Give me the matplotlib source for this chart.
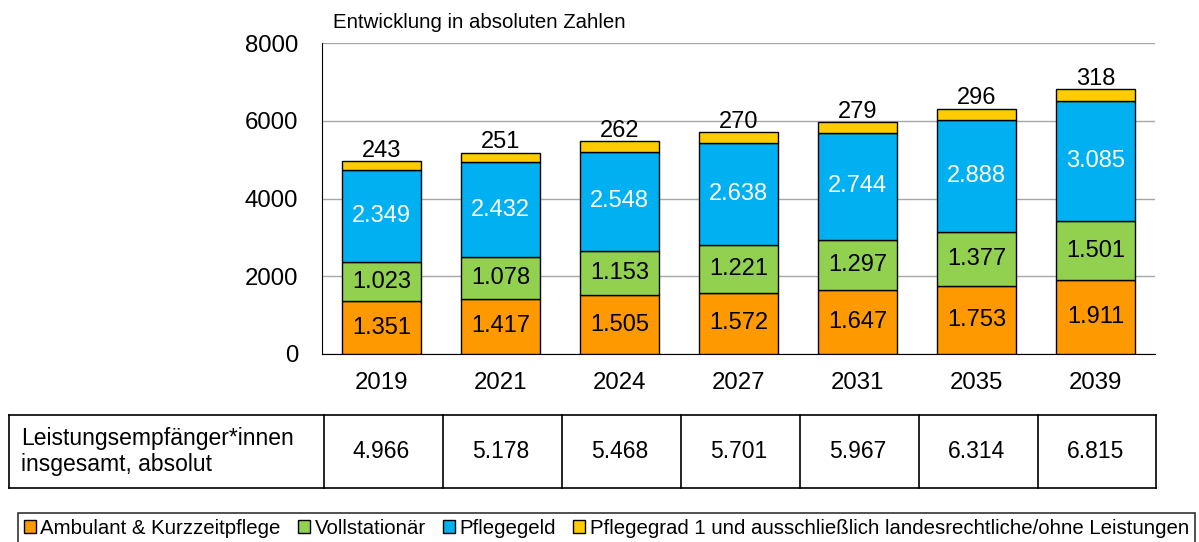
import numpy as np
import matplotlib.pyplot as plt
from matplotlib.patches import Patch

plt.rcParams['font.family'] = ['Liberation Sans', 'DejaVu Sans']

years = ['2019', '2021', '2024', '2027', '2031', '2035', '2039']
ambulant = [1351, 1417, 1505, 1572, 1647, 1753, 1911]
vollstationaer = [1023, 1078, 1153, 1221, 1297, 1377, 1501]
pflegegeld = [2349, 2432, 2548, 2638, 2744, 2888, 3085]
pflegegrad1 = [243, 251, 262, 270, 279, 296, 318]
totals = [4966, 5178, 5468, 5701, 5967, 6314, 6815]

series_names = ['Ambulant & Kurzzeitpflege', 'Vollstationär', 'Pflegegeld',
                'Pflegegrad 1 und ausschließlich landesrechtliche/ohne Leistungen']
colors = ['#FF9900', '#92D050', '#00B0F0', '#FFCC00']
label_colors = ['black', 'black', 'white', 'black']

W, H = 1199, 542
fig = plt.figure(figsize=(W / 100, H / 100), dpi=100)
ax = fig.add_axes([322 / W, 1 - 354 / H, (1155 - 322) / W, (354 - 43) / H])


def fmt(v):
    return f'{v:,}'.replace(',', '.')


x = np.arange(len(years))
bottom = np.zeros(len(years))
for i, vals in enumerate([ambulant, vollstationaer, pflegegeld, pflegegrad1]):
    vals = np.array(vals)
    ax.bar(x, vals, 0.665, bottom=bottom, color=colors[i], edgecolor='black',
           linewidth=1, zorder=3)
    for xi, b, v in zip(x, bottom, vals):
        if i < 3:
            ax.text(xi, b + v / 2, fmt(v), ha='center', va='center',
                    fontsize=17, color=label_colors[i], zorder=4)
        else:
            ax.text(xi, b + v - 20, fmt(v), ha='center', va='bottom',
                    fontsize=17, color='black', zorder=4)
    bottom = bottom + vals

ax.set_xlim(-0.5, 6.5)
ax.set_ylim(0, 8000)
ax.set_yticks([0, 2000, 4000, 6000, 8000])
ax.set_xticks(x)
ax.set_xticklabels(years)
ax.tick_params(axis='both', length=0, labelsize=17.3)
ax.tick_params(axis='x', pad=13)
ax.tick_params(axis='y', pad=17)
ax.yaxis.grid(True, color='#A6A6A6', linewidth=1)
ax.set_axisbelow(True)
for s in ['top', 'right']:
    ax.spines[s].set_visible(False)
ax.spines['left'].set_color('black')
ax.spines['bottom'].set_color('black')
ax.text(333 / W, 1 - 22 / H, 'Entwicklung in absoluten Zahlen', transform=fig.transFigure,
        ha='left', va='center', fontsize=14.7)

# table below the chart
tax = fig.add_axes([322 / W, 1 - 488 / H, (1155 - 322) / W, (488 - 415) / H])
tax.set_xlim(-0.5, 6.5)
tax.set_ylim(0, 1)
tax.axis('off')
left_edge = -0.5 - (322 - 9) / 119
right_edge = 6.5 + 1 / 119
kw = dict(color='black', linewidth=1.2, clip_on=False)
tax.plot([left_edge, right_edge], [1, 1], **kw)
tax.plot([left_edge, right_edge], [0, 0], **kw)
for b in [left_edge] + [xi + 0.52 for xi in range(-1, 6)] + [right_edge]:
    tax.plot([b, b], [0, 1], **kw)
for xi, t in zip(x, totals):
    tax.text(xi, 0.5, fmt(t), ha='center', va='center', fontsize=16.5)
tax.text(left_edge + 12 / 119, 0.5, 'Leistungsempfänger*innen\ninsgesamt, absolut',
         ha='left', va='center', fontsize=16.5, linespacing=1.2)

handles = [Patch(facecolor=c, edgecolor='black', linewidth=1) for c in colors]
leg = fig.legend(handles, series_names, loc='upper left',
                 bbox_to_anchor=(18 / W, 1 - 513 / H), ncol=4, fontsize=14.7,
                 frameon=True, fancybox=False, edgecolor='black',
                 handlelength=0.6, handleheight=0.6, handletextpad=0.2,
                 columnspacing=0.85, borderpad=0.3, borderaxespad=0)
leg.get_frame().set_linewidth(1.2)

fig.savefig('out.png', dpi=100)
